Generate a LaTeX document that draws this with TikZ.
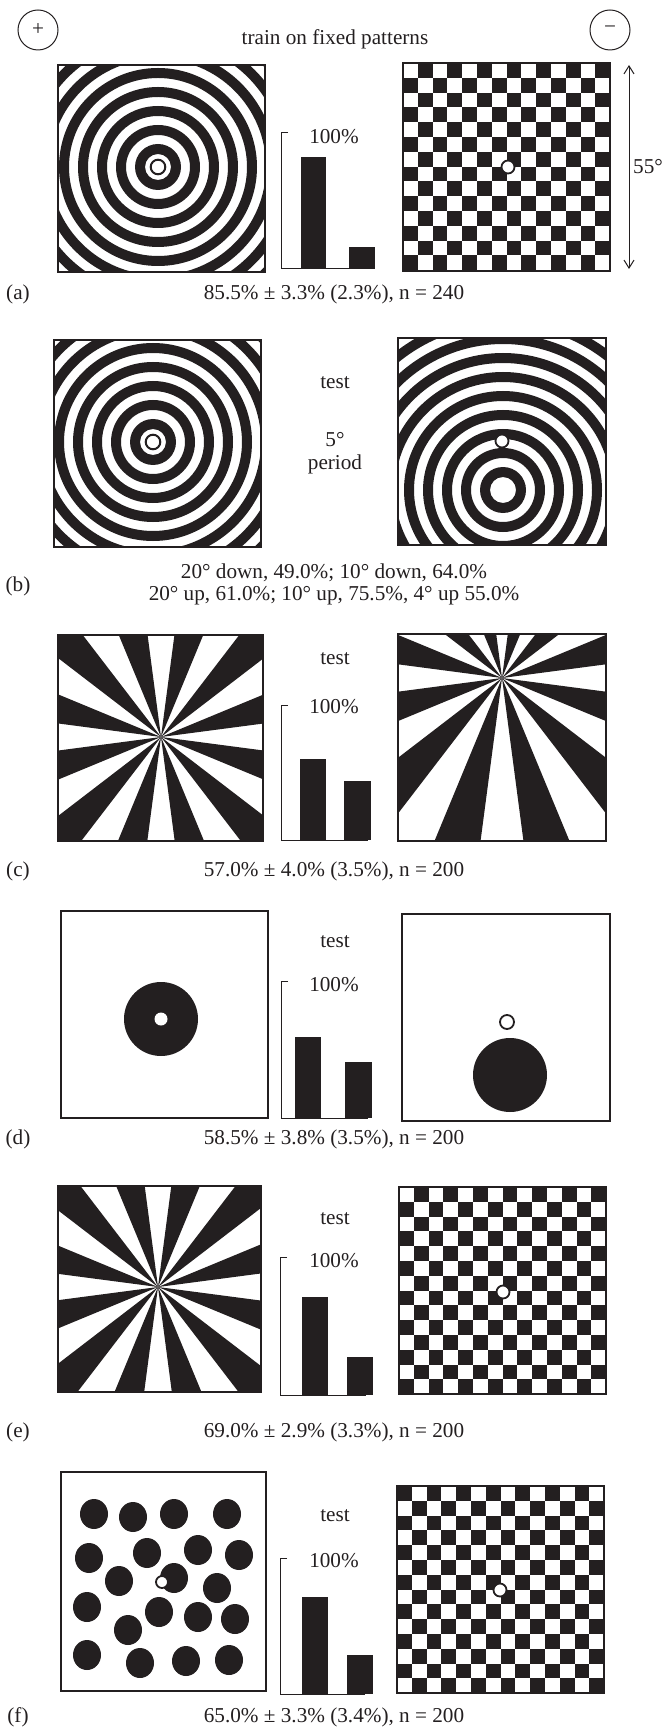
\documentclass[tikz,border=0pt]{standalone}
\usepackage{fontspec}
\setmainfont{Liberation Serif}
\usepackage{tikz}
\usetikzlibrary{arrows.meta}
\definecolor{ink}{HTML}{231F20}
\tikzset{
  txt/.style  = {font=\fontsize{10.6}{11}\selectfont, text=ink, inner sep=0pt, align=center},
  frm/.style  = {draw=ink, line width=0.65pt},
  hole/.style = {fill=white, draw=ink, line width=0.9pt},
  axis/.style = {draw=ink, line width=0.5pt},
  sign/.style = {circle, draw=ink, line width=0.5pt, minimum size=20pt, inner sep=0pt,
                 font=\fontsize{10.6}{11}\selectfont, text=ink},
  dim/.style  = {draw=ink, line width=0.5pt,
                 {Straight Barb[length=4pt,width=5pt]}-{Straight Barb[length=4pt,width=5pt]}},
}
% concentric rings, period 19, around a named centre
\newcommand{\rings}[1]{%
  \foreach \r in {13,32,...,203}{\fill[ink, even odd rule] (#1) circle[radius=\r] circle[radius=\r+10];}}
% 24 sectors, white ones on the axes
\newcommand{\rays}[1]{%
  \foreach \a in {7.5,37.5,...,337.5}{\fill[ink] (#1) -- +(\a:330) -- +(\a+15:330) -- cycle;}}
% 14 x 14 board from a named corner, #2 = phase
\newcommand{\checks}[2]{%
  \begin{scope}[shift={(#1)}]
    \foreach \i in {0,...,13}{\foreach \j in {0,...,13}{%
      \pgfmathtruncatemacro\odd{mod(\i+\j+#2,2)}%
      \ifnum\odd=1 \fill[ink] (\i*14.8,\j*14.8) rectangle +(14.8,14.8);\fi}}
  \end{scope}}

\begin{document}
\begin{tikzpicture}[x=0.5pt,y=-0.5pt]
  \useasboundingbox (0,0) rectangle (667,1727);

  % ---------------- header ----------------
  \node[sign] (plus) at (38,30) {+};
  \node[sign] (minus) at (610,30) {−};
  \node[txt] (title) at (335,39) {train on fixed patterns};

  % ---------------- (a) ----------------
  \coordinate (ringA) at (158,167);
  \begin{scope}
    \clip (58,65) rectangle (265,272);
    \rings{ringA}
  \end{scope}
  \draw[ink, line width=1pt] (ringA) circle[radius=7.3];
  \draw[frm] (58,65) rectangle (265,272);
  \draw[axis] (288,133) -- (281,133) -- (281,269) -- (355,269);
  \fill[ink] (301,157) rectangle (326,269);
  \fill[ink] (349,247) rectangle (375,269);
  \node[txt] (pctA) at (334,137) {100\%};
  \coordinate (chkA) at (403,63);
  \checks{chkA}{0}
  \draw[hole] (508,167) circle[radius=6.5];
  \draw[frm] (403,63) rectangle (610,271);
  \coordinate (topA) at (629,65);
  \coordinate (botA) at (629,269);
  \draw[dim] (topA) -- (botA);
  \node[txt] (deg) at (648,167) {55°};
  \node[txt] (labA) at (18,294) {(a)};
  \node[txt] (capA) at (334,294) {85.5\% ± 3.3\% (2.3\%), n = 240};

  % ---------------- (b) ----------------
  \coordinate (ringB) at (153,442);
  \begin{scope}
    \clip (54,340) rectangle (261,547);
    \rings{ringB}
  \end{scope}
  \draw[ink, line width=1pt] (ringB) circle[radius=7.3];
  \draw[frm] (54,340) rectangle (261,547);
  \node[txt] (testB) at (335,383) {test};
  \node[txt] (perB) at (335,440) {5°};
  \node[txt] (perB2) at (335,464) {period};
  \coordinate (ringC) at (503,490);
  \begin{scope}
    \clip (398,338) rectangle (606,545);
    \rings{ringC}
  \end{scope}
  \draw[hole] (502,441) circle[radius=6.5];
  \draw[frm] (398,338) rectangle (606,545);
  \node[txt] (labB) at (18,586) {(b)};
  \node[txt] (capB) at (334,584) {20° down, 49.0\%; 10° down, 64.0\%\\20° up, 61.0\%; 10° up, 75.5\%, 4° up 55.0\%};

  % ---------------- (c) ----------------
  \coordinate (sunC) at (161,737);
  \begin{scope}
    \clip (58,635) rectangle (263,841);
    \rays{sunC}
  \end{scope}
  \draw[frm] (58,635) rectangle (263,841);
  \node[txt] (testC) at (335,659) {test};
  \draw[axis] (288,705) -- (281,705) -- (281,840) -- (368,840);
  \fill[ink] (300,759) rectangle (326,840);
  \fill[ink] (344,781) rectangle (371,840);
  \node[txt] (pctC) at (334,707) {100\%};
  \coordinate (sunD) at (502,678);
  \begin{scope}
    \clip (398,634) rectangle (606,841);
    \rays{sunD}
  \end{scope}
  \draw[frm] (398,634) rectangle (606,841);
  \node[txt] (labC) at (18,871) {(c)};
  \node[txt] (capC) at (334,871) {57.0\% ± 4.0\% (3.5\%), n = 200};

  % ---------------- (d) ----------------
  \draw[frm] (61,911) rectangle (268,1118);
  \fill[ink] (161,1019) circle[radius=37];
  \fill[white] (161,1019) circle[radius=6.5];
  \node[txt] (testD) at (335,942) {test};
  \draw[axis] (288,981) -- (281,981) -- (281,1118) -- (368,1118);
  \fill[ink] (295,1037) rectangle (321,1118);
  \fill[ink] (345,1062) rectangle (372,1118);
  \node[txt] (pctD) at (334,985) {100\%};
  \draw[frm] (402,914) rectangle (610,1121);
  \draw[hole] (507,1022) circle[radius=7];
  \fill[ink] (510,1075) circle[radius=37];
  \node[txt] (labD) at (18,1139) {(d)};
  \node[txt] (capD) at (334,1139) {58.5\% ± 3.8\% (3.5\%), n = 200};

  % ---------------- (e) ----------------
  \coordinate (sunE) at (158,1287);
  \begin{scope}
    \clip (58,1186) rectangle (261,1392);
    \rays{sunE}
  \end{scope}
  \draw[frm] (58,1186) rectangle (261,1392);
  \node[txt] (testE) at (335,1219) {test};
  \draw[axis] (287,1257) -- (280,1257) -- (280,1395) -- (366,1395);
  \fill[ink] (302,1297) rectangle (328,1395);
  \fill[ink] (347,1357) rectangle (373,1395);
  \node[txt] (pctE) at (334,1261) {100\%};
  \coordinate (chkE) at (399,1187);
  \checks{chkE}{0}
  \draw[hole] (503,1292) circle[radius=6.5];
  \draw[frm] (399,1187) rectangle (606,1394);
  \node[txt] (labE) at (18,1432) {(e)};
  \node[txt] (capE) at (334,1432) {69.0\% ± 2.9\% (3.3\%), n = 200};

  % ---------------- (f) ----------------
  \draw[frm] (61,1472) rectangle (266,1691);
  \foreach \px/\py in {94/1514, 133/1517, 174/1514, 227/1514,
                       89/1558, 147/1553, 198/1550, 239/1555,
                       119/1581, 174/1578, 217/1588,
                       87/1607, 159/1612, 198/1617, 235/1619, 128/1630,
                       87/1655, 140/1663, 186/1661, 229/1660}
    \fill[ink] (\px,\py) ellipse[x radius=14, y radius=15];
  \draw[hole] (162,1582) circle[radius=6];
  \node[txt] (testF) at (335,1516) {test};
  \draw[axis] (287,1558) -- (280,1558) -- (280,1694) -- (365,1694);
  \fill[ink] (302,1597) rectangle (328,1694);
  \fill[ink] (347,1655) rectangle (373,1694);
  \node[txt] (pctF) at (334,1561) {100\%};
  \coordinate (chkF) at (397,1486);
  \checks{chkF}{1}
  \draw[hole] (500,1590) circle[radius=6.5];
  \draw[frm] (397,1486) rectangle (604,1693);
  \node[txt] (labF) at (18,1717) {(f)};
  \node[txt] (capF) at (334,1717) {65.0\% ± 3.3\% (3.4\%), n = 200};
\end{tikzpicture}
\end{document}
